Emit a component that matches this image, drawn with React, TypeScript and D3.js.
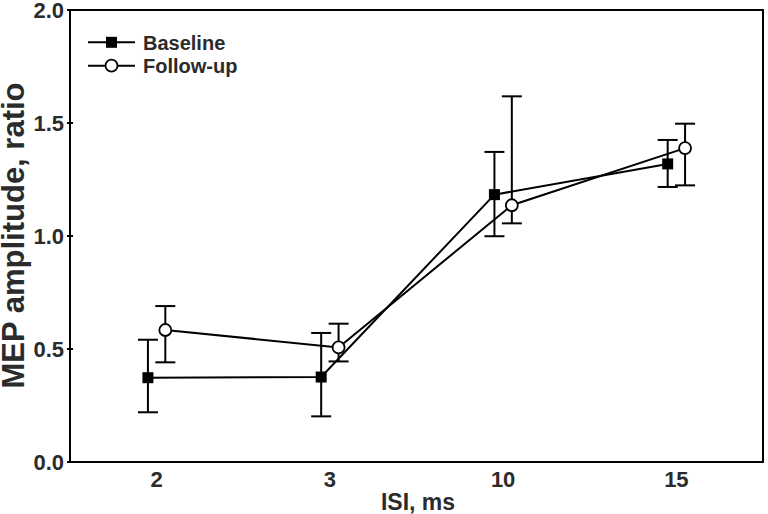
import React from "react";
import * as d3 from "d3";

const categories = ["2", "3", "10", "15"];
const baselineMean = [0.373, 0.376, 1.183, 1.319];
const baselineUpper = [0.541, 0.571, 1.372, 1.425];
const baselineLower = [0.220, 0.202, 0.999, 1.217];
const followMean = [0.584, 0.507, 1.136, 1.389];
const followUpper = [0.690, 0.612, 1.618, 1.497];
const followLower = [0.441, 0.445, 1.056, 1.224];
const yTicks = [0, 0.5, 1.0, 1.5, 2.0];

const W = 768, H = 514;
const L = 70, R = 763, T = 10, B = 462;

export default function App() {
  const x = d3.scalePoint<string>().domain(categories).range([L, R]).padding(0.5);
  const y = d3.scaleLinear().domain([0, 2]).range([B, T]);
  const off = 8.7;
  const line = d3.line<[number, number]>().x(d => d[0]).y(d => d[1]);

  const series = [
    { name: "Baseline", mean: baselineMean, up: baselineUpper, lo: baselineLower, dx: -off, filled: true },
    { name: "Follow-up", mean: followMean, up: followUpper, lo: followLower, dx: off, filled: false },
  ];
  const font = "'Liberation Sans', Arial, sans-serif";
  const txt = "#2b2b2b";

  return (
    <svg width={W} height={H} style={{ position: "absolute", left: 0, top: 0, background: "#fff" }} fontFamily={font}>
      <rect x={0} y={0} width={W} height={H} fill="#fff" />
      <rect x={L} y={T} width={R - L} height={B - T} fill="none" stroke="#000" strokeWidth={2} />
      {yTicks.map(t => (
        <g key={t}>
          <line x1={L - 3} x2={L + 3} y1={y(t)} y2={y(t)} stroke="#000" strokeWidth={2} />
          <text x={64} y={y(t)} dy="0.36em" textAnchor="end" fontSize={22} fontWeight="bold" fill={txt}>{t.toFixed(1)}</text>
        </g>
      ))}
      {categories.map(c => (
        <text key={c} x={x(c)!} y={487} textAnchor="middle" fontSize={22} fontWeight="bold" fill={txt}>{c}</text>
      ))}
      <text x={418} y={510} textAnchor="middle" fontSize={23} fontWeight="bold" fill={txt}>ISI, ms</text>
      <text transform={`translate(24,235.5) rotate(-90)`} textAnchor="middle" fontSize={31} fontWeight="bold" fill={txt}>MEP amplitude, ratio</text>

      {series.map(s => {
        const pts: [number, number][] = categories.map((c, i) => [x(c)! + s.dx, y(s.mean[i])]);
        return (
          <g key={s.name}>
            {categories.map((c, i) => {
              const cx = x(c)! + s.dx;
              return (
                <g key={c} stroke="#000" strokeWidth={2}>
                  <line x1={cx} x2={cx} y1={y(s.up[i])} y2={y(s.lo[i])} />
                  <line x1={cx - 10} x2={cx + 10} y1={y(s.up[i])} y2={y(s.up[i])} />
                  <line x1={cx - 10} x2={cx + 10} y1={y(s.lo[i])} y2={y(s.lo[i])} />
                </g>
              );
            })}
            <path d={line(pts)!} fill="none" stroke="#000" strokeWidth={2} />
            {pts.map((p, i) =>
              s.filled ? (
                <rect key={i} x={p[0] - 5.5} y={p[1] - 5.5} width={11} height={11} fill="#000" />
              ) : (
                <circle key={i} cx={p[0]} cy={p[1]} r={6} fill="#fff" stroke="#000" strokeWidth={1.8} />
              )
            )}
          </g>
        );
      })}

      <g>
        <line x1={88} x2={135} y1={42.3} y2={42.3} stroke="#000" strokeWidth={2} />
        <rect x={111.5 - 5.5} y={42.3 - 5.5} width={11} height={11} fill="#000" />
        <text x={143} y={49.8} fontSize={20} fontWeight="bold" fill={txt}>Baseline</text>
        <line x1={88} x2={135} y1={65.7} y2={65.7} stroke="#000" strokeWidth={2} />
        <circle cx={111.5} cy={65.7} r={6} fill="#fff" stroke="#000" strokeWidth={1.8} />
        <text x={143} y={73.2} fontSize={20} fontWeight="bold" fill={txt}>Follow-up</text>
      </g>
    </svg>
  );
}
